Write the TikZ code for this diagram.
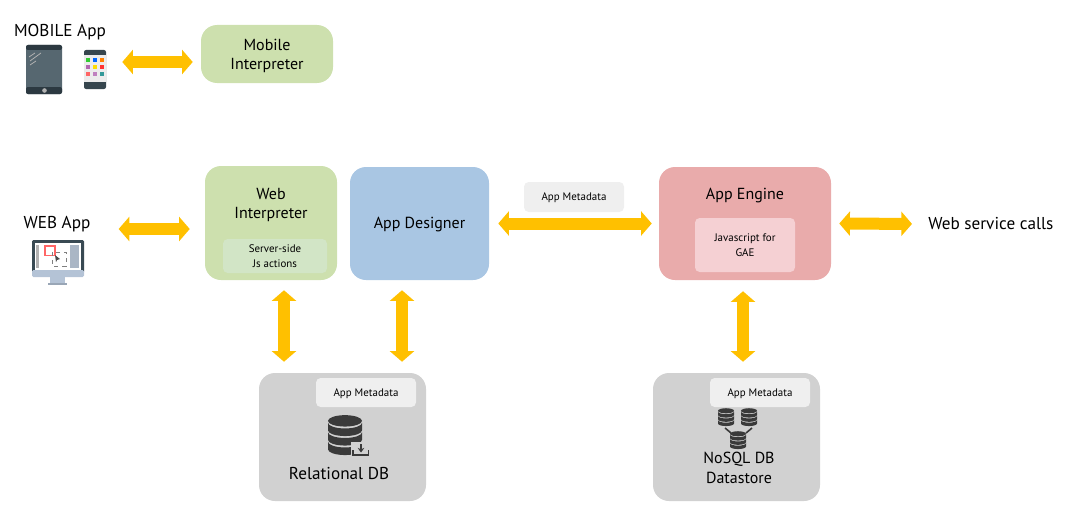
\documentclass[tikz,border=0pt]{standalone}
\usepackage{fontspec}
\setmainfont{PT Sans}
\usetikzlibrary{arrows.meta}
\definecolor{boxgreen}{HTML}{CDE0AE}
\definecolor{boxblue}{HTML}{A9C6E3}
\definecolor{boxpink}{HTML}{E9ABAB}
\definecolor{boxgrey}{HTML}{D1D1D1}
\definecolor{chippink}{HTML}{F5D0D3}
\definecolor{chipgreen}{HTML}{D2E5C6}
\definecolor{chipgrey}{HTML}{EFEFEF}
\definecolor{flowyellow}{HTML}{FFC000}
\definecolor{slate}{HTML}{3F525C}
\definecolor{dbdark}{HTML}{3A3A3A}
\definecolor{monitorblue}{HTML}{B4C3D6}
\tikzset{
    boxsize/.style 2 args={minimum width=#1*0.75pt, minimum height=#2*0.75pt, inner sep=0pt},
    bigbox/.style={rounded corners=12pt, fill=#1},
    chip/.style={rounded corners=3.5pt, fill=#1, align=center, text depth=0pt, font=\fontsize{8.2}{11.5}\selectfont},
    title/.style={align=center, inner sep=0pt, font=\fontsize{12.9}{14.7}\selectfont},
    boxtitle/.style={align=center, inner sep=0pt, font=\fontsize{12}{14.7}\selectfont},
    bigarrow/.style={draw=flowyellow, line width=9pt,
        {Triangle[length=8pt, width=18pt, fill=flowyellow]}-{Triangle[length=8pt, width=18pt, fill=flowyellow]}},
    pics/dbcyl/.style 2 args={code={
        \begin{scope}[x=#1*0.75pt, y=#2*0.75pt]
            \fill[dbdark] (0,.85) ellipse (1 and .3);
            \foreach \ytop in {.75,.25,-.25}
                \fill[dbdark] (-1,\ytop-.4) arc (180:360:1 and .3) -- (1,\ytop) arc (360:180:1 and .3) -- cycle;
        \end{scope}
    }}
}
\begin{document}
\begin{tikzpicture}[x=0.75pt, y=-0.75pt]
    \useasboundingbox (0,0) rectangle (1073,517);

    % boxes
    \node[bigbox=boxgreen, boxsize={132}{58}] (mobile) at (267,54) {};
    \node[bigbox=boxgreen, boxsize={132}{114}] (web) at (271,223) {};
    \node[bigbox=boxblue, boxsize={139}{113}] (designer) at (419.5,223.5) {};
    \node[bigbox=boxpink, boxsize={172}{113}] (engine) at (745,223.5) {};
    \node[bigbox=boxgrey, boxsize={167}{128}] (relational) at (342.5,437) {};
    \node[bigbox=boxgrey, boxsize={167}{128}] (nosql) at (736.5,437) {};

    % chips
    \node[chip=chipgreen, boxsize={104}{34}] (serverjs) at (275,256) {Server-side\\Js actions};
    \node[chip=chippink, boxsize={100}{54}] (gaejs) at (745,245) {Javascript for\\GAE};
    \node[chip=chipgrey, boxsize={100}{30}] (flowmeta) at (574,197) {App Metadata};
    \node[chip=chipgrey, boxsize={100}{29}] (relmeta) at (366,392.5) {App Metadata};
    \node[chip=chipgrey, boxsize={100}{29}] (nosqlmeta) at (760,392.5) {App Metadata};

    % labels
    \node[boxtitle] (mobiletext) at (267,56) {Mobile\\Interpreter};
    \node[boxtitle] (webtext) at (271,205) {Web\\Interpreter};
    \node[boxtitle] (designertext) at (419.5,225) {App Designer};
    \node[boxtitle] (enginetext) at (745,196) {App Engine};
    \node[title] (reltext) at (339,474) {Relational DB};
    \node[boxtitle] (nosqltext) at (739,468) {NoSQL DB\\Datastore};
    \node[title] (mobilelabel) at (60,32) {MOBILE App};
    \node[title] (weblabel) at (57,224) {WEB App};
    \node[title, anchor=west] (callslabel) at (928,224) {Web service calls};

    % tablet
    \draw[fill=slate!88!white, draw=none, rounded corners=1.5pt] (26,45) rectangle (62,94);
    \fill[slate!70!black, rounded corners=1.5pt] (26,45) rectangle (62,50);
    \fill[slate!70!black, rounded corners=1.5pt] (26,87) rectangle (62,94);
    \fill[gray!60] (44.5,90.5) circle (2.3);
    \draw[gray!60, line width=.6pt] (29,57) -- (35,53) (30,61) -- (41,53) (30,65) -- (36,61);

    % phone
    \node[boxsize={22}{39}] (phone) at (95,69.5) {};
    \fill[slate!85!black, rounded corners=1.5pt] (84,50) rectangle (106,89);
    \fill[gray!15] (84,55) rectangle (106,82);
    \foreach \px/\py/\cola in {88/60/green!60!gray, 95/60/blue!60!cyan, 102/60/orange,
        88/67/violet!60, 95/67/yellow!80!orange, 102/67/red!80,
        88/74/red!60, 95/74/violet!50, 102/74/teal!80}
        \fill[\cola] (\px-2,\py-2) rectangle (\px+2,\py+2);

    % monitor
    \node[boxsize={53}{45}] (monitor) at (57,262) {};
    \fill[slate!90!black, rounded corners=1pt] (32,240) rectangle (84,273);
    \fill[white] (35,243) rectangle (81,270);
    \fill[monitorblue, rounded corners=1pt] (32,270) rectangle (84,277);
    \fill[monitorblue] (50,277) rectangle (65,283);
    \fill[monitorblue!85!black] (48,283) rectangle (67,285);
    \fill[gray!60] (36,245) rectangle (39,268);
    \fill[monitorblue!80!gray] (70,245) rectangle (79,268);
    \draw[red!60, line width=1.3pt] (45,246) rectangle (55,255.5);
    \draw[gray, dashed, line width=.5pt] (52,252) rectangle (66,266);
    \fill[black!70] (55,255) -- (60,259) -- (57,260) -- (56,262) -- cycle;

    % database icons
    \pic at (345,437) {dbcyl={17}{19}};
    \fill[boxgrey] (351,442) rectangle (372,458);
    \draw[dbdark, line width=1.3pt] (353,450) -- (353,455) -- (368.5,455) -- (368.5,450);
    \draw[dbdark, line width=1.4pt, -{Stealth[length=3.5pt, width=5pt]}] (361,444) -- (361,452.5);

    \pic at (726,418) {dbcyl={8}{8.5}};
    \pic at (749,418) {dbcyl={8}{8.5}};
    \pic at (738,441) {dbcyl={8}{8.5}};
    \draw[dbdark, line width=1.2pt] (725,428) -- (731,433) (752,428) -- (746,433);

    % connectors
    \draw[bigarrow, shorten <=16*0.75pt, shorten >=8*0.75pt] ([yshift=7.5*0.75pt]phone.east) -- ([yshift=-8*0.75pt]mobile.west);
    \draw[bigarrow, shorten <=28*0.75pt, shorten >=15*0.75pt] ([yshift=-5*0.75pt]weblabel.east) -- ([yshift=-6*0.75pt]web.west);
    \draw[bigarrow, shorten <=9*0.75pt, shorten >=7*0.75pt] (designer.east) -- (engine.west);
    \draw[bigarrow, shorten <=8*0.75pt, shorten >=16*0.75pt] (engine.east) -- (callslabel.west);
    \draw[bigarrow, shorten <=10*0.75pt, shorten >=11*0.75pt] ([xshift=13*0.75pt]web.south) -- ([xshift=-58.5*0.75pt]relational.north);
    \draw[bigarrow, shorten <=10*0.75pt, shorten >=11*0.75pt] ([xshift=-17.5*0.75pt]designer.south) -- ([xshift=59.5*0.75pt]relational.north);
    \draw[bigarrow, shorten <=11*0.75pt, shorten >=11*0.75pt] ([xshift=-2*0.75pt]engine.south) -- ([xshift=6.5*0.75pt]nosql.north);
\end{tikzpicture}
\end{document}
